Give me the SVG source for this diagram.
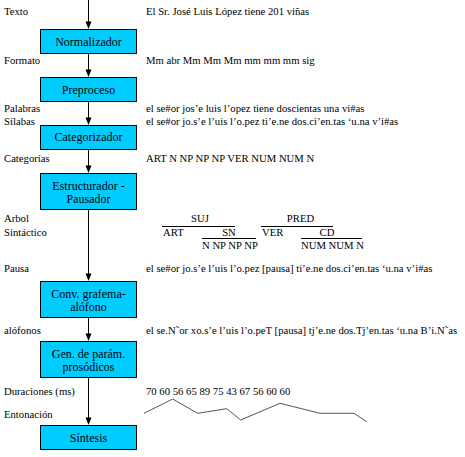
<svg xmlns="http://www.w3.org/2000/svg" width="465" height="457" viewBox="0 0 465 457">
<style>
.box{fill:#00CCFF;stroke:#000;stroke-width:1}
.bt{font-family:'Liberation Serif','Times New Roman',Times,'DejaVu Serif',serif;font-size:12px;text-anchor:middle;fill:#000}
.t{font-family:'Liberation Serif','Times New Roman',Times,'DejaVu Serif',serif;font-size:10.7px;fill:#000}
.c{stroke:#000;stroke-width:1;fill:none}
.tr{stroke:#000;stroke-width:1}
</style>
<rect width="465" height="457" fill="#fff"/>
<g id="connectors">
<path class="c" d="M88.5,0 V28"/>
<path class="c" d="M88.5,53 V76"/>
<path class="c" d="M88.5,101 V124"/>
<path class="c" d="M88.5,149 V172"/>
<path class="c" d="M88.5,209 V280"/>
<path class="c" d="M88.5,317 V340"/>
<path class="c" d="M88.5,377 V424"/>
<g fill="#000">
<path d="M85.5,21.5 L91.5,21.5 L88.5,29 Z"/>
<path d="M85.5,69.5 L91.5,69.5 L88.5,77 Z"/>
<path d="M85.5,117.5 L91.5,117.5 L88.5,125 Z"/>
<path d="M85.5,165.5 L91.5,165.5 L88.5,173 Z"/>
<path d="M85.5,273.5 L91.5,273.5 L88.5,281 Z"/>
<path d="M85.5,333.5 L91.5,333.5 L88.5,341 Z"/>
<path d="M85.5,417.5 L91.5,417.5 L88.5,425 Z"/>
</g>
</g>
<g id="n1"><rect class="box" x="40.5" y="29.5" width="96" height="24"/><text class="bt" x="88.5" y="45.5">Normalizador</text></g>
<g id="n2"><rect class="box" x="40.5" y="77.5" width="96" height="24"/><text class="bt" x="88.5" y="93.5">Preproceso</text></g>
<g id="n3"><rect class="box" x="40.5" y="125.5" width="96" height="24"/><text class="bt" x="88.5" y="141">Categorizador</text></g>
<g id="n4"><rect class="box" x="40.5" y="173.5" width="96" height="36"/><text class="bt" x="88.5" y="190">Estructurador -</text><text class="bt" x="88.5" y="202.5">Pausador</text></g>
<g id="n5"><rect class="box" x="40.5" y="281.5" width="96" height="36"/><text class="bt" x="88.5" y="298">Conv. grafema-</text><text class="bt" x="88.5" y="310.5">alófono</text></g>
<g id="n6"><rect class="box" x="40.5" y="341.5" width="96" height="36"/><text class="bt" x="88.5" y="358">Gen. de parám.</text><text class="bt" x="88.5" y="370.5">prosódicos</text></g>
<g id="n7"><rect class="box" x="40.5" y="425.5" width="96" height="24"/><text class="bt" x="88.5" y="441.5">Síntesis</text></g>
<g id="labels">
<text class="t" x="4" y="15">Texto</text>
<text class="t" x="4" y="64">Formato</text>
<text class="t" x="4" y="112">Palabras</text>
<text class="t" x="4" y="125">Sílabas</text>
<text class="t" x="4" y="162">Categorías</text>
<text class="t" x="4" y="222">Arbol</text>
<text class="t" x="4" y="235.5">Sintáctico</text>
<text class="t" x="4" y="272">Pausa</text>
<text class="t" x="4" y="334">alófonos</text>
<text class="t" x="4" y="395">Duraciones (ms)</text>
<text class="t" x="4" y="418">Entonación</text>
</g>
<g id="values">
<text class="t" x="146" y="15">El Sr. José Luis López tiene 201 viñas</text>
<text class="t" x="146" y="64">Mm abr Mm Mm Mm mm mm mm sig</text>
<text class="t" x="146" y="112">el se#or jos’e luis l’opez tiene doscientas una vi#as</text>
<text class="t" x="146" y="125">el se#or jo.s’e l’uis l’o.pez ti’e.ne dos.ci’en.tas ‘u.na v’i#as</text>
<text class="t" x="146" y="162">ART N NP NP NP VER NUM NUM N</text>
<text class="t" x="146" y="272">el se#or jo.s’e l’uis l’o.pez [pausa] ti’e.ne dos.ci’en.tas ‘u.na v’i#as</text>
<text class="t" x="146" y="334">el se.N˜or xo.s’e l’uis l’o.peT [pausa] tj’e.ne dos.Tj’en.tas ‘u.na B’i.N˜as</text>
<text class="t" x="146" y="395">70 60 56 65 89 75 43 67 56 60 60</text>
</g>
<g id="tree">
<text class="t" x="200" y="222" text-anchor="middle">SUJ</text>
<path class="tr" d="M162,226.5 H235"/>
<text class="t" x="163" y="235.5">ART</text>
<text class="t" x="229" y="235.5" text-anchor="middle">SN</text>
<path class="tr" d="M202,238.5 H256"/>
<text class="t" x="202" y="248.5">N NP NP NP</text>
<text class="t" x="300.5" y="222" text-anchor="middle">PRED</text>
<path class="tr" d="M261,226.5 H333"/>
<text class="t" x="262" y="235.5">VER</text>
<text class="t" x="327" y="235.5" text-anchor="middle">CD</text>
<path class="tr" d="M301,238.5 H362"/>
<text class="t" x="301" y="248.5">NUM NUM N</text>
</g>
<g id="intonation">
<polyline points="144,413.3 172.7,399 197.7,413.3 226.7,408.7 240.7,420 280,403.3 320,413.3 354,413.3 366.7,421.7" fill="none" stroke="#555" stroke-width="1"/>
</g>
</svg>
